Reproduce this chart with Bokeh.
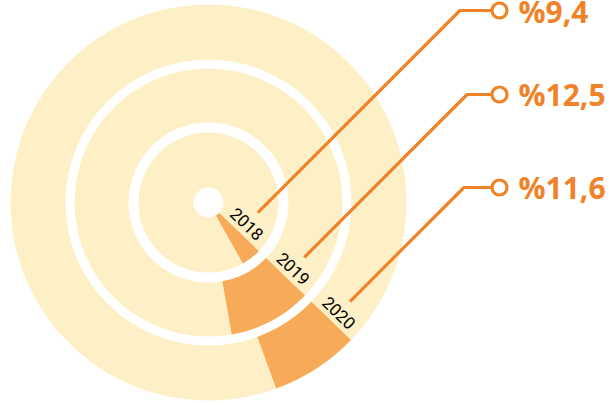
import math
from bokeh.plotting import figure
from bokeh.models import Range1d
from bokeh.embed import file_html
from bokeh.resources import INLINE
from bokeh.core.properties import value

# ---- data ----
years = ["2018", "2019", "2020"]
share_values = [9.4, 12.5, 11.6]
share_labels = ["%9,4", "%12,5", "%11,6"]
sweep_deg = [16.5, 36.0, 26.0]   # wedge sweep as drawn in the picture

# ---- layout / style ----
inner_r = [15, 80, 143]
outer_r = [70, 134, 198]
edge_deg = -44.0
label_y = [192, 108, 15]
text_dy = [-1, 0, 0]
marker_x = 291
text_x = 310
BAND = "#FEF0C6"
WEDGE = "#F7AA58"
ORANGE = "#F08228"

p = figure(width=613, height=403, x_range=Range1d(-208, 405), y_range=Range1d(-201, 202),
           output_backend="svg", toolbar_location=None, min_border=0,
           x_axis_location=None, y_axis_location=None, outline_line_color=None,
           background_fill_color="white", border_fill_color="white")
p.grid.visible = False

# bands
p.annulus(x=0, y=0, inner_radius=inner_r, outer_radius=outer_r, fill_color=BAND, line_color=None)

# wedges
edge = math.radians(edge_deg)
starts = [edge - math.radians(s) for s in sweep_deg]
ends = [edge] * len(years)
p.annular_wedge(x=[0] * 3, y=[0] * 3, inner_radius=inner_r, outer_radius=outer_r,
                start_angle=starts, end_angle=ends, fill_color=WEDGE, line_color=None)

# year labels along the wedge edge
ux, uy = math.cos(edge), math.sin(edge)
nx, ny = -uy, ux  # perpendicular (upper-right)
mid_r = [(a + b) / 2 for a, b in zip(inner_r, outer_r)]
lx = [r * ux + 11 * nx for r in mid_r]
ly = [r * uy + 11 * ny for r in mid_r]
p.text(x=lx, y=ly, text=years, angle=edge, text_align="center", text_baseline="middle",
       text_font=value("Roboto"), text_font_size="17px", text_color="black")

# leaders
sx = [r * ux + 27 * nx for r in mid_r]
sy = [r * uy + 27 * ny for r in mid_r]
xs, ys = [], []
for x0, y0, ty in zip(sx, sy, label_y):
    ex = x0 + (ty - y0)
    xs.append([x0, ex, marker_x])
    ys.append([y0, ty, ty])
p.multi_line(xs=xs, ys=ys, line_color=ORANGE, line_width=3.2)
p.scatter(x=[marker_x] * 3, y=label_y, size=15, fill_color="white", line_color=ORANGE, line_width=3.2)

p.text(x=[text_x] * 3, y=[y + d for y, d in zip(label_y, text_dy)], text=share_labels,
       text_align="left", text_baseline="middle",
       text_font=value("Open Sans"), text_font_style="bold", text_font_size="30px", text_color=ORANGE)

open("out.html", "w").write(file_html(p, INLINE))
